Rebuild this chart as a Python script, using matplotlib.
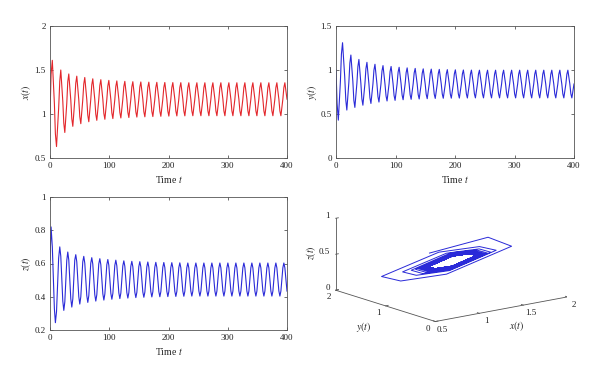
import math
import matplotlib
matplotlib.use('Agg')
import matplotlib.pyplot as plt
from mpl_toolkits.mplot3d import proj3d

plt.rcParams['font.family'] = ['Liberation Serif', 'DejaVu Serif']
plt.rcParams['mathtext.fontset'] = 'stix'

# ---------------- data ----------------
t = [0, 1.8, 3.9, 7.4, 9.1, 11.0, 14.6,
     16.5, 18.2, 21.6, 23.3, 25.0, 28.3,
     30.0, 31.7, 35.1, 36.8, 38.5, 41.8,
     43.5, 45.2, 48.6, 50.3, 52.0, 55.3,
     57.0, 58.7, 62.1, 63.8, 65.5, 68.8,
     70.5, 72.2, 75.6, 77.3, 79.0, 82.3,
     84.1, 85.8, 89.2, 90.9, 92.6, 95.9,
     97.6, 99.3, 102.7, 104.4, 106.1, 109.4,
     111.1, 112.8, 116.2, 117.9, 119.6, 122.9,
     124.6, 126.3, 129.7, 131.4, 133.1, 136.4,
     138.1, 139.8, 143.2, 144.9, 146.6, 149.9,
     151.6, 153.3, 156.7, 158.4, 160.1, 163.4,
     165.1, 166.8, 170.2, 171.9, 173.6, 176.9,
     178.6, 180.3, 183.7, 185.4, 187.1, 190.4,
     192.1, 193.8, 197.2, 198.9, 200.6, 203.9,
     205.6, 207.3, 210.7, 212.4, 214.1, 217.4,
     219.1, 220.8, 224.2, 225.9, 227.6, 230.9,
     232.6, 234.3, 237.7, 239.4, 241.1, 244.4,
     246.2, 247.9, 251.3, 253.0, 254.7, 258.0,
     259.7, 261.4, 264.8, 266.5, 268.2, 271.5,
     273.2, 274.9, 278.3, 280.0, 281.7, 285.0,
     286.7, 288.4, 291.8, 293.5, 295.2, 298.5,
     300.2, 301.9, 305.3, 307.0, 308.7, 312.0,
     313.7, 315.4, 318.8, 320.5, 322.2, 325.5,
     327.2, 328.9, 332.3, 334.0, 335.7, 339.0,
     340.7, 342.4, 345.8, 347.5, 349.2, 352.5,
     354.2, 355.9, 359.3, 361.0, 362.7, 366.0,
     367.7, 369.4, 372.8, 374.5, 376.2, 379.5,
     381.2, 382.9, 386.3, 388.0, 389.7, 393.0,
     394.7, 396.4, 400.0]

x = [1.00, 1.45, 1.61, 1.12, 0.774, 0.63, 1.065,
     1.373, 1.50, 1.145, 0.894, 0.79, 1.12,
     1.368, 1.455, 1.158, 0.947, 0.86, 1.158,
     1.351, 1.43, 1.16, 0.969, 0.89, 1.16,
     1.341, 1.415, 1.164, 0.986, 0.912, 1.164,
     1.331, 1.40, 1.164, 0.997, 0.928, 1.164,
     1.324, 1.39, 1.165, 1.006, 0.94, 1.165,
     1.318, 1.382, 1.165, 1.012, 0.948, 1.165,
     1.314, 1.376, 1.166, 1.017, 0.955, 1.166,
     1.311, 1.371, 1.166, 1.020, 0.96, 1.166,
     1.308, 1.367, 1.166, 1.024, 0.965, 1.166,
     1.306, 1.364, 1.166, 1.026, 0.968, 1.166,
     1.305, 1.362, 1.167, 1.029, 0.971, 1.167,
     1.303, 1.360, 1.167, 1.031, 0.974, 1.167,
     1.302, 1.358, 1.167, 1.032, 0.976, 1.167,
     1.301, 1.357, 1.168, 1.034, 0.978, 1.168,
     1.301, 1.356, 1.168, 1.035, 0.979, 1.168,
     1.300, 1.355, 1.168, 1.035, 0.980, 1.168,
     1.300, 1.355, 1.168, 1.035, 0.980, 1.168,
     1.300, 1.355, 1.168, 1.035, 0.980, 1.168,
     1.300, 1.355, 1.168, 1.035, 0.980, 1.168,
     1.300, 1.355, 1.168, 1.035, 0.980, 1.168,
     1.300, 1.355, 1.168, 1.035, 0.980, 1.168,
     1.300, 1.355, 1.168, 1.035, 0.980, 1.168,
     1.300, 1.355, 1.168, 1.035, 0.980, 1.168,
     1.300, 1.355, 1.168, 1.035, 0.980, 1.168,
     1.300, 1.355, 1.168, 1.035, 0.980, 1.168,
     1.300, 1.355, 1.168, 1.035, 0.980, 1.168,
     1.300, 1.355, 1.168, 1.035, 0.980, 1.168,
     1.300, 1.355, 1.168]

y = [1.00, 0.62, 0.43, 0.87, 1.18, 1.31, 0.928,
     0.657, 0.545, 0.858, 1.079, 1.17, 0.873,
     0.655, 0.575, 0.848, 1.040, 1.12, 0.848,
     0.671, 0.60, 0.844, 1.016, 1.087, 0.844,
     0.685, 0.62, 0.843, 1.000, 1.065, 0.843,
     0.697, 0.636, 0.843, 0.989, 1.05, 0.843,
     0.705, 0.648, 0.844, 0.983, 1.04, 0.844,
     0.710, 0.655, 0.843, 0.976, 1.031, 0.843,
     0.715, 0.662, 0.843, 0.971, 1.024, 0.843,
     0.718, 0.667, 0.843, 0.967, 1.018, 0.843,
     0.721, 0.671, 0.842, 0.963, 1.013, 0.842,
     0.723, 0.674, 0.842, 0.961, 1.010, 0.842,
     0.725, 0.677, 0.842, 0.959, 1.007, 0.842,
     0.727, 0.679, 0.842, 0.957, 1.004, 0.842,
     0.727, 0.680, 0.841, 0.955, 1.002, 0.841,
     0.728, 0.681, 0.841, 0.954, 1.000, 0.841,
     0.729, 0.682, 0.841, 0.953, 0.999, 0.841,
     0.729, 0.683, 0.841, 0.952, 0.998, 0.841,
     0.729, 0.683, 0.841, 0.952, 0.998, 0.841,
     0.729, 0.683, 0.841, 0.952, 0.998, 0.841,
     0.729, 0.683, 0.841, 0.952, 0.998, 0.841,
     0.729, 0.683, 0.841, 0.952, 0.998, 0.841,
     0.729, 0.683, 0.841, 0.952, 0.998, 0.841,
     0.729, 0.683, 0.841, 0.952, 0.998, 0.841,
     0.729, 0.683, 0.841, 0.952, 0.998, 0.841,
     0.729, 0.683, 0.841, 0.952, 0.998, 0.841,
     0.729, 0.683, 0.841, 0.952, 0.998, 0.841,
     0.729, 0.683, 0.841, 0.952, 0.998, 0.841,
     0.729, 0.683, 0.841, 0.952, 0.998, 0.841,
     0.729, 0.683, 0.841]

z = [0.62, 0.82, 0.70, 0.328, 0.244, 0.311, 0.633,
     0.700, 0.644, 0.374, 0.318, 0.369, 0.618,
     0.669, 0.621, 0.387, 0.338, 0.387, 0.621,
     0.653, 0.610, 0.400, 0.356, 0.400, 0.610,
     0.643, 0.602, 0.407, 0.366, 0.407, 0.602,
     0.635, 0.597, 0.412, 0.374, 0.412, 0.597,
     0.629, 0.593, 0.417, 0.380, 0.417, 0.593,
     0.624, 0.589, 0.420, 0.385, 0.420, 0.589,
     0.620, 0.586, 0.423, 0.389, 0.423, 0.586,
     0.616, 0.583, 0.425, 0.392, 0.425, 0.583,
     0.613, 0.581, 0.427, 0.395, 0.427, 0.581,
     0.611, 0.580, 0.428, 0.397, 0.428, 0.580,
     0.609, 0.578, 0.430, 0.399, 0.430, 0.578,
     0.607, 0.577, 0.431, 0.400, 0.431, 0.577,
     0.606, 0.576, 0.432, 0.401, 0.432, 0.576,
     0.605, 0.575, 0.432, 0.402, 0.432, 0.575,
     0.604, 0.575, 0.433, 0.403, 0.433, 0.575,
     0.603, 0.574, 0.434, 0.404, 0.434, 0.574,
     0.603, 0.574, 0.434, 0.404, 0.434, 0.574,
     0.603, 0.574, 0.434, 0.404, 0.434, 0.574,
     0.603, 0.574, 0.434, 0.404, 0.434, 0.574,
     0.603, 0.574, 0.434, 0.404, 0.434, 0.574,
     0.603, 0.574, 0.434, 0.404, 0.434, 0.574,
     0.603, 0.574, 0.434, 0.404, 0.434, 0.574,
     0.603, 0.574, 0.434, 0.404, 0.434, 0.574,
     0.603, 0.574, 0.434, 0.404, 0.434, 0.574,
     0.603, 0.574, 0.434, 0.404, 0.434, 0.574,
     0.603, 0.574, 0.434, 0.404, 0.434, 0.574,
     0.603, 0.574, 0.434, 0.404, 0.434, 0.574,
     0.603, 0.574, 0.434]

time_ticks = [0, 100, 200, 300, 400]
time_tick_labels = ['0', '100', '200', '300', '400']
x_ticks = [0.5, 1, 1.5, 2]
x_tick_labels = ['0.5', '1', '1.5', '2']
y_ticks = [0, 0.5, 1, 1.5]
y_tick_labels = ['0', '0.5', '1', '1.5']
z_ticks = [0.2, 0.4, 0.6, 0.8, 1]
z_tick_labels = ['0.2', '0.4', '0.6', '0.8', '1']
x3_ticks = [0.5, 1, 1.5, 2]
x3_tick_labels = ['0.5', '1', '1.5', '2']
y3_ticks = [0, 1, 2]
y3_tick_labels = ['0', '1', '2']
z3_ticks = [0, 0.5, 1]
z3_tick_labels = ['0', '0.5', '1']

RED = '#e3262b'
BLUE = '#2a2ad8'
FRAME = '#555555'
TXT = '#222222'

W, H = 600, 378
fig = plt.figure(figsize=(6, 3.78), dpi=100)

# ---------------- 3D phase portrait (added first, drawn underneath) ----------------
ax4 = fig.add_axes([0.52, 0.02, 0.46, 0.5], projection='3d')
ax4.set_zorder(0)
ax4.patch.set_visible(False)
ax4.set_facecolor('none')
ax4.set_proj_type('ortho')
ax4.view_init(elev=14, azim=-127.6)
ax4.set_xlim(0.5, 2)
ax4.set_ylim(0, 2)
ax4.set_zlim(0, 1)
ax4.set_box_aspect((1, 0.98, 0.445))
ax4.set_axis_off()
ax4.plot(x, y, z, color=BLUE, lw=0.7)

ax4.plot([0.5, 2], [0, 0], [0, 0], color=FRAME, lw=0.6)
ax4.plot([0.5, 0.5], [0, 2], [0, 0], color=FRAME, lw=0.6)
ax4.plot([0.5, 0.5], [2, 2], [0, 1], color=FRAME, lw=0.6)
for v in x3_ticks:
    ax4.plot([v, v], [0, 0.04], [0, 0], color=FRAME, lw=0.6)
for v in y3_ticks:
    ax4.plot([0.5, 0.53], [v, v], [0, 0], color=FRAME, lw=0.6)
for v in z3_ticks:
    ax4.plot([0.5, 0.53], [2, 2], [v, v], color=FRAME, lw=0.6)


def style(ax, ylim, yt, ytl, ylab):
    ax.set_xlim(0, 400)
    ax.set_ylim(*ylim)
    ax.set_xticks(time_ticks)
    ax.set_xticklabels(time_tick_labels)
    ax.set_yticks(yt)
    ax.set_yticklabels(ytl)
    ax.tick_params(direction='in', length=2.5, width=0.6, top=True, right=True,
                   labelsize=6.5, pad=3, color=FRAME, labelcolor=TXT)
    for s in ax.spines.values():
        s.set_linewidth(0.6)
        s.set_color(FRAME)
    ax.set_xlabel('Time $t$', fontsize=7, labelpad=3, color=TXT)
    ax.set_ylabel(ylab, fontsize=7, labelpad=1, color=TXT)
    ax.set_zorder(2)


ax1 = fig.add_axes([50 / W, 1 - 158 / H, 237 / W, 132 / H])
ax1.plot(t, x, color=RED, lw=0.8)
style(ax1, (0.5, 2), x_ticks, x_tick_labels, '$x(t)$')

ax2 = fig.add_axes([336 / W, 1 - 158 / H, 238 / W, 132 / H])
ax2.plot(t, y, color=BLUE, lw=0.8)
style(ax2, (0, 1.5), y_ticks, y_tick_labels, '$y(t)$')

ax3 = fig.add_axes([50 / W, 1 - 330 / H, 237 / W, 133 / H])
ax3.plot(t, z, color=BLUE, lw=0.8)
style(ax3, (0.2, 1), z_ticks, z_tick_labels, '$z(t)$')


def disp(px, py, pz):
    xs, ys, _ = proj3d.proj_transform([px], [py], [pz], ax4.get_proj())
    return ax4.transData.transform((xs[0], ys[0]))


# fit the projected 3D box to the reference placement
fig.canvas.draw()
targets = {(0.5, 0, 0): (436.7, H - 321.7),
           (2, 0, 0): (566.7, H - 296.7),
           (0.5, 2, 1): (335.0, H - 218.3)}
keys = list(targets.keys())
act = [disp(*k) for k in keys]
tg = [targets[k] for k in keys]
da = math.hypot(act[1][0] - act[2][0], act[1][1] - act[2][1])
dt = math.hypot(tg[1][0] - tg[2][0], tg[1][1] - tg[2][1])
s = dt / da
bb = ax4.get_position(original=True)
cx = (bb.x0 + bb.width / 2) * W
cy = (bb.y0 + bb.height / 2) * H
ncx = sum(tg[i][0] - s * (act[i][0] - cx) for i in range(3)) / 3
ncy = sum(tg[i][1] - s * (act[i][1] - cy) for i in range(3)) / 3
nw = bb.width * W * s
nh = bb.height * H * s
ax4.set_position([(ncx - nw / 2) / W, (ncy - nh / 2) / H, nw / W, nh / H])
fig.canvas.draw()

fs3 = 6.5
for v, lab in zip(x3_ticks, x3_tick_labels):
    px, py = disp(v, 0, 0)
    fig.text((px + 7) / W, (py - 8) / H, lab, ha='center', va='center', fontsize=fs3, color=TXT)
for v, lab in zip(y3_ticks, y3_tick_labels):
    px, py = disp(0.5, v, 0)
    fig.text((px - 7) / W, (py - 7) / H, lab, ha='center', va='center', fontsize=fs3, color=TXT)
for v, lab in zip(z3_ticks, z3_tick_labels):
    px, py = disp(0.5, 2, v)
    fig.text((px - 6) / W, (py + 2) / H, lab, ha='right', va='center', fontsize=fs3, color=TXT)

px, py = disp(1.25, 0, 0)
fig.text((px + 15) / W, (py - 17) / H, '$x(t)$', ha='center', va='center', fontsize=7, color=TXT)
px, py = disp(0.5, 1, 0)
fig.text((px - 22) / W, (py - 21) / H, '$y(t)$', ha='center', va='center', fontsize=7, color=TXT)
px, py = disp(0.5, 2, 0.5)
fig.text((px - 25) / W, (py + 2) / H, '$z(t)$', ha='center', va='center', fontsize=7,
         rotation=90, color=TXT)

fig.savefig('out.png', dpi=100)
